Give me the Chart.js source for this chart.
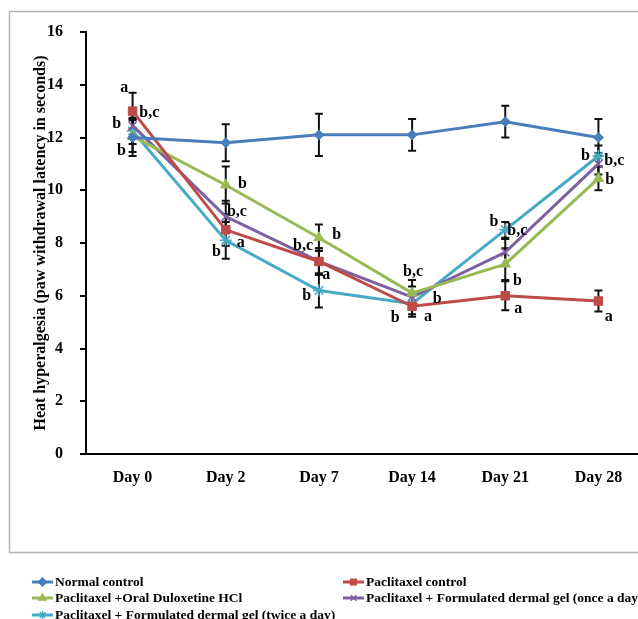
<!DOCTYPE html>
<html>
<head>
<meta charset="utf-8">
<script src="https://cdn.jsdelivr.net/npm/chart.js@4"></script>
<style>
  html, body { margin: 0; padding: 0; background: #fff; overflow: hidden; }
  #wrap { position: absolute; left: 0; top: 0; width: 660px; height: 619px; }
</style>
</head>
<body>
<div id="wrap"><canvas id="myChart" width="660" height="619"></canvas></div>
<script>
// categories
const days = ['Day 0', 'Day 2', 'Day 7', 'Day 14', 'Day 21', 'Day 28'];
const yTicks = [0, 2, 4, 6, 8, 10, 12, 14, 16];

// series means (seconds)
const normalControl = [12.0, 11.8, 12.1, 12.1, 12.6, 12.0];
const paclitaxelControl = [13.0, 8.5, 7.3, 5.6, 6.0, 5.8];
const oralDuloxetine = [12.05, 10.2, 8.2, 6.1, 7.2, 10.45];
const gelOnce = [12.45, 9.0, 7.3, 5.95, 7.65, 11.0];
const gelTwice = [12.25, 8.1, 6.2, 5.7, 8.5, 11.3];

// error bars (+/-)
const normalErr = [0.7, 0.7, 0.8, 0.6, 0.6, 0.7];
const paclitaxelErr = [0.7, 0.6, 0.5, 0.4, 0.55, 0.4];
const duloxetineErr = [0.6, 0.7, 0.5, 0.5, 0.6, 0.45];
const gelOnceErr = [0.5, 0.6, 0.5, 0.4, 0.5, 0.4];
const gelTwiceErr = [0.5, 0.7, 0.65, 0.4, 0.3, 0.4];

// significance letters: [text, category position, value]
const letters = [
  ['a', -0.09, 13.9], ['b,c', 0.18, 12.95], ['b', -0.17, 12.5], ['b', -0.12, 11.5],
  ['b', 1.18, 10.26], ['b,c', 1.12, 9.17], ['a', 1.16, 7.99], ['b', 0.9, 7.65],
  ['b', 2.19, 8.3], ['b,c', 1.83, 7.9], ['a', 2.08, 6.8], ['b', 1.87, 6.0],
  ['b,c', 3.01, 6.9], ['b', 3.27, 5.9], ['b', 2.82, 5.15], ['a', 3.17, 5.2],
  ['b', 3.88, 8.8], ['b,c', 4.13, 8.45], ['b', 4.13, 6.55], ['a', 4.14, 5.5],
  ['b', 4.86, 11.3], ['b,c', 5.17, 11.1], ['b', 5.12, 10.4], ['a', 5.11, 5.2]
];

const serif = "'Liberation Serif', 'Times New Roman', serif";

function series(label, data, err, color, style, radius) {
  return {
    label: label,
    data: data,
    err: err,
    borderColor: color,
    backgroundColor: color,
    borderWidth: 3,
    pointStyle: style,
    pointRadius: radius,
    pointBorderWidth: style === 'crossRot' || style === 'star' ? 1.5 : 1,
    pointBorderColor: color,
    pointBackgroundColor: color,
    tension: 0
  };
}

const datasets = [
  series('Normal control', normalControl, normalErr, '#4A7EBB', 'rectRot', 5),
  series('Paclitaxel control', paclitaxelControl, paclitaxelErr, '#BE4B48', 'rect', 6),
  series('Paclitaxel +Oral Duloxetine HCl', oralDuloxetine, duloxetineErr, '#98B954', 'triangle', 6),
  series('Paclitaxel + Formulated dermal gel (once a day)', gelOnce, gelOnceErr, '#7D60A0', 'crossRot', 6),
  series('Paclitaxel + Formulated dermal gel (twice a day)', gelTwice, gelTwiceErr, '#46AAC5', 'star', 6)
];

// frame around the plot
const framePlugin = {
  id: 'frame',
  beforeDraw(chart) {
    const ctx = chart.ctx;
    ctx.save();
    ctx.strokeStyle = '#b4b4b4';
    ctx.lineWidth = 1.5;
    ctx.strokeRect(9.5, 11.5, 700, 541);
    ctx.restore();
  }
};

// error bars drawn behind the lines
const errorBars = {
  id: 'errorBars',
  beforeDatasetsDraw(chart) {
    const ctx = chart.ctx;
    const y = chart.scales.y;
    ctx.save();
    ctx.strokeStyle = '#111';
    ctx.lineWidth = 2;
    chart.data.datasets.forEach((ds, di) => {
      const meta = chart.getDatasetMeta(di);
      meta.data.forEach((pt, i) => {
        const top = y.getPixelForValue(ds.data[i] + ds.err[i]);
        const bot = y.getPixelForValue(ds.data[i] - ds.err[i]);
        ctx.beginPath();
        ctx.moveTo(pt.x, top); ctx.lineTo(pt.x, bot);
        ctx.moveTo(pt.x - 4, top); ctx.lineTo(pt.x + 4, top);
        ctx.moveTo(pt.x - 4, bot); ctx.lineTo(pt.x + 4, bot);
        ctx.stroke();
      });
    });
    ctx.restore();
  }
};

// letters + legend
const extras = {
  id: 'extras',
  afterDraw(chart) {
    const ctx = chart.ctx;
    const x = chart.scales.x, y = chart.scales.y;
    ctx.save();
    ctx.fillStyle = '#000';
    ctx.font = 'bold 16px ' + serif;
    ctx.textAlign = 'center';
    ctx.textBaseline = 'middle';
    letters.forEach(l => {
      ctx.fillText(l[0], x.getPixelForValue(l[1]), y.getPixelForValue(l[2]));
    });

    // legend in two columns
    const cols = [32, 343];
    const rows = [582, 598, 615];
    ctx.font = 'bold 13.5px ' + serif;
    ctx.textAlign = 'left';
    chart.data.datasets.forEach((ds, i) => {
      const lx = cols[i % 2], ly = rows[Math.floor(i / 2)];
      ctx.strokeStyle = ds.borderColor;
      ctx.fillStyle = ds.backgroundColor;
      ctx.lineWidth = 3;
      ctx.beginPath();
      ctx.moveTo(lx, ly); ctx.lineTo(lx + 21, ly);
      ctx.stroke();
      ctx.lineWidth = 1.5;
      Chart.helpers.drawPoint(ctx, {
        pointStyle: ds.pointStyle, radius: 4, rotation: 0,
        borderWidth: 1.5
      }, lx + 10.5, ly);
      ctx.fillStyle = '#000';
      ctx.fillText(ds.label, lx + 23, ly + 1);
    });
    ctx.restore();
  }
};

const ctx = document.getElementById('myChart').getContext('2d');
new Chart(ctx, {
  type: 'line',
  data: { labels: days, datasets: datasets },
  options: {
    responsive: false,
    animation: false,
    layout: { padding: { left: 0, right: 15, top: 32, bottom: 125 } },
    plugins: { legend: { display: false }, tooltip: { enabled: false } },
    scales: {
      x: {
        offset: true,
        grid: { display: false },
        border: { color: '#000', width: 2 },
        ticks: { color: '#000', padding: 6, font: { family: serif, size: 16, weight: 'bold' } },
        afterFit(s) { s.height = 40; }
      },
      y: {
        min: 0, max: 16,
        afterBuildTicks(s) { s.ticks = yTicks.map(v => ({ value: v })); },
        grid: { drawOnChartArea: false, drawTicks: true, tickLength: 6, color: '#000', lineWidth: 2 },
        border: { color: '#000', width: 2 },
        ticks: { color: '#000', padding: 17, font: { family: serif, size: 16, weight: 'bold' } },
        title: {
          display: true,
          text: 'Heat hyperalgesia (paw withdrawal latency in seconds)',
          color: '#000',
          padding: { top: 31 },
          font: { family: serif, size: 16, weight: 'bold' }
        },
        afterFit(s) { s.width = 86; }
      }
    }
  },
  plugins: [framePlugin, errorBars, extras]
});
</script>
</body>
</html>
